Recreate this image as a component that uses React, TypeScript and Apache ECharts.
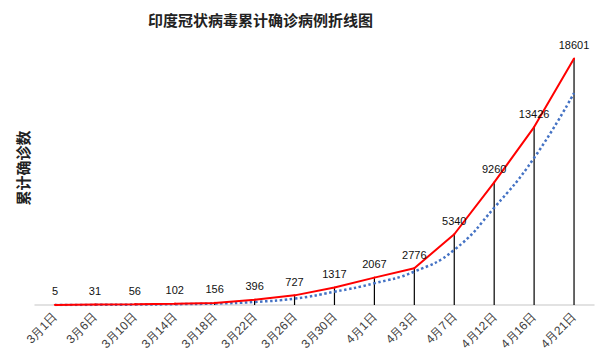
import React, { useEffect, useRef } from "react";
import * as echarts from "echarts";

const categories = ["3月1日", "3月6日", "3月10日", "3月14日", "3月18日", "3月22日", "3月26日", "3月30日", "4月1日", "4月3日", "4月7日", "4月12日", "4月16日", "4月21日"];
const confirmed = [5, 31, 56, 102, 156, 396, 727, 1317, 2067, 2776, 5340, 9260, 13426, 18601];
const trend = [0, 10, 30, 60, 110, 230, 480, 1000, 1640, 2520, 4160, 7340, 11100, 16000];

export default function App() {
  const ref = useRef<HTMLDivElement>(null);
  useEffect(() => {
    if (!ref.current) return;
    const chart = echarts.init(ref.current, null, { renderer: "svg" });
    chart.setOption({
      animation: false,
      backgroundColor: "#ffffff",
      title: {
        text: "印度冠状病毒累计确诊病例折线图",
        left: 143,
        top: 7,
        textStyle: { fontFamily: "Noto Sans CJK SC", fontWeight: "bold", fontSize: 15, color: "#222" },
      },
      graphic: [
        {
          type: "text",
          x: 22,
          y: 168,
          rotation: Math.PI / 2,
          style: {
            text: "累计确诊数",
            fontFamily: "Noto Sans CJK SC",
            fontWeight: "bold",
            fontSize: 15,
            fill: "#222",
            align: "center",
            verticalAlign: "middle",
          },
        },
      ],
      grid: { left: 35, right: 8, top: 40, bottom: 55, containLabel: false },
      xAxis: {
        type: "category",
        data: categories,
        boundaryGap: true,
        axisLine: { lineStyle: { color: "#D9D9D9", width: 1.5 } },
        axisTick: { show: false },
        axisLabel: {
          rotate: 45,
          interval: 0,
          fontSize: 12,
          color: "#404040",
          fontFamily: "Liberation Sans",
          margin: 10,
        },
      },
      yAxis: { type: "value", min: 0, max: 20000, show: false },
      series: [
        {
          type: "bar",
          data: confirmed,
          barWidth: 1.2,
          itemStyle: { color: "#000000" },
          z: 1,
        },
        {
          type: "line",
          data: trend,
          smooth: true,
          symbol: "none",
          lineStyle: { color: "#4472C4", width: 2.5, type: "dotted" },
          z: 2,
        },
        {
          type: "line",
          data: confirmed,
          symbol: "circle",
          symbolSize: 2,
          showSymbol: true,
          itemStyle: { color: "#FF0000" },
          lineStyle: { color: "#FF0000", width: 2 },
          label: {
            show: true,
            position: "top",
            distance: 7,
            fontSize: 11,
            color: "#111",
            fontFamily: "Liberation Sans",
          },
          labelLayout: { hideOverlap: false },
          z: 3,
        },
      ],
    });
    return () => chart.dispose();
  }, []);
  return <div ref={ref} style={{ width: 602, height: 360, position: "absolute", left: 0, top: 0 }} />;
}
